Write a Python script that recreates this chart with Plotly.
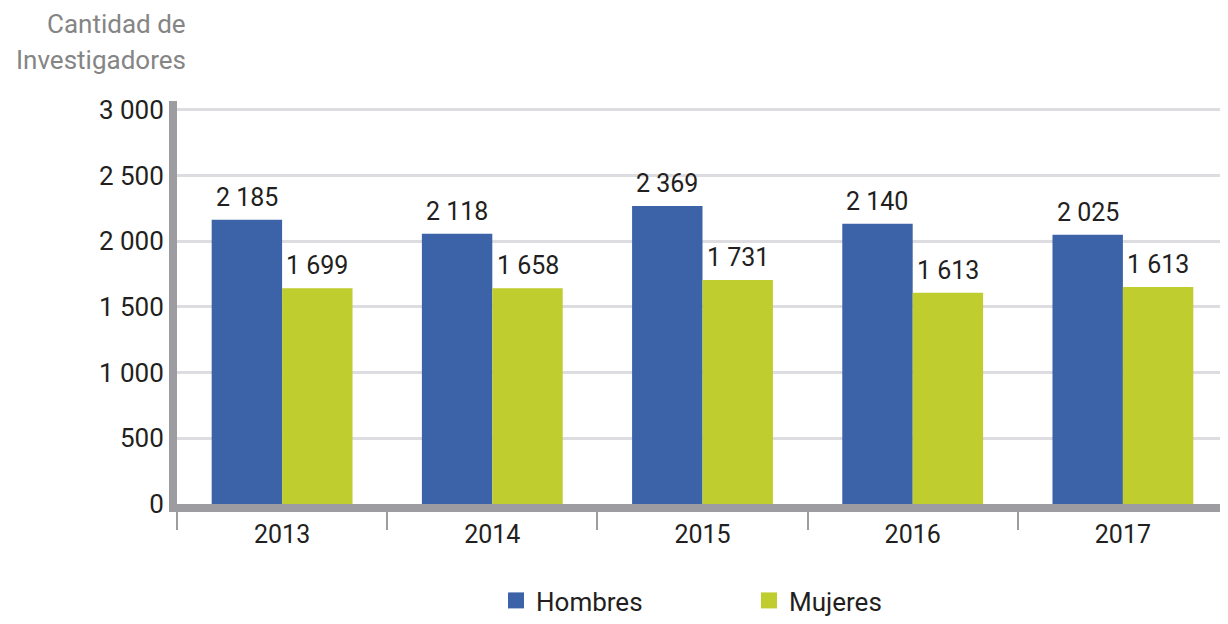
import plotly.graph_objects as go

years = ["2013", "2014", "2015", "2016", "2017"]
# bar heights as drawn in the picture
hombres_heights = [2163, 2057, 2268, 2133, 2050]
mujeres_heights = [1642, 1642, 1705, 1607, 1652]
# printed data labels
hombres_labels = ["2 185", "2 118", "2 369", "2 140", "2 025"]
mujeres_labels = ["1 699", "1 658", "1 731", "1 613", "1 613"]
y_ticks = [0, 500, 1000, 1500, 2000, 2500, 3000]
y_tick_text = ["0", "500", "1 000", "1 500", "2 000", "2 500", "3 000"]

BLUE = "#3C63A8"
GREEN = "#BFCD2E"
AXIS = "#9D9DA1"
GRID = "#DCDCE1"
TEXT = "#231F20"
FONT = "Roboto"

# page has an 8px body margin, so the figure is drawn 8px smaller
W, H = 1220, 616
ML, MR, MT, MB = 169, 0, 93, 114
BARGAP = 0.33
plot_w = W - ML - MR
plot_h = H - MT - MB

fig = go.Figure()
fig.add_trace(go.Bar(x=years, y=hombres_heights, name="Hombres", marker_color=BLUE,
                     marker_line_width=0, showlegend=False))
fig.add_trace(go.Bar(x=years, y=mujeres_heights, name="Mujeres", marker_color=GREEN,
                     marker_line_width=0, showlegend=False))
# legend entries (no visible points)
fig.add_trace(go.Scatter(x=[years[0]], y=[None], mode="markers", name="Hombres",
                         marker=dict(symbol="square", size=19, color=BLUE)))
fig.add_trace(go.Scatter(x=[years[0]], y=[None], mode="markers", name="Mujeres",
                         marker=dict(symbol="square", size=19, color=GREEN)))

bar_px = plot_w / len(years) * (1 - BARGAP) / 2
annotations = []
for i, yr in enumerate(years):
    annotations.append(dict(x=i, y=hombres_heights[i], text=hombres_labels[i], xref="x", yref="y",
                            showarrow=False, xshift=-bar_px / 2, yshift=6, yanchor="bottom",
                            font=dict(size=25, color=TEXT, family=FONT)))
    annotations.append(dict(x=i, y=mujeres_heights[i], text=mujeres_labels[i], xref="x", yref="y",
                            showarrow=False, xshift=bar_px / 2, yshift=6, yanchor="bottom",
                            font=dict(size=25, color=TEXT, family=FONT)))

title_x = (180 - ML) / plot_w
annotations.append(dict(text="Cantidad de", xref="paper", yref="paper", x=title_x,
                        y=1 + (MT - 15) / plot_h, xanchor="right", yanchor="middle", showarrow=False,
                        font=dict(size=26, color="#858585", family=FONT)))
annotations.append(dict(text="Investigadores", xref="paper", yref="paper", x=title_x,
                        y=1 + (MT - 51) / plot_h, xanchor="right", yanchor="middle", showarrow=False,
                        font=dict(size=26, color="#858585", family=FONT)))

fig.update_layout(
    width=W, height=H,
    margin=dict(l=ML, r=MR, t=MT, b=MB, pad=0),
    plot_bgcolor="white", paper_bgcolor="white",
    barmode="group", bargap=BARGAP, bargroupgap=0,
    font=dict(family=FONT, size=24, color=TEXT),
    annotations=annotations,
    legend=dict(orientation="h", x=(488 - ML) / plot_w, xanchor="left",
                y=(plot_h + MT - 600) / plot_h, yanchor="middle",
                font=dict(size=26, color=TEXT, family=FONT), entrywidth=208, entrywidthmode="pixels",
                bgcolor="rgba(0,0,0,0)"),
)
fig.update_xaxes(type="category", categoryorder="array", categoryarray=years,
                 range=[-0.5, len(years) - 0.5],
                 showline=True, linewidth=8, linecolor=AXIS,
                 ticks="outside", tickson="boundaries", ticklen=18, tickwidth=2, tickcolor=AXIS,
                 ticklabelstandoff=1,
                 showgrid=False, tickangle=0, tickfont=dict(size=25, color=TEXT, family=FONT))
fig.update_yaxes(range=[0, 3067], tickvals=y_ticks, ticktext=y_tick_text, showline=True,
                 linewidth=8, linecolor=AXIS, showgrid=True, gridcolor=GRID, gridwidth=3,
                 zeroline=False, ticks="", ticklabelstandoff=0,
                 tickfont=dict(size=26, color=TEXT, family=FONT))

fig.write_html("out.html")
